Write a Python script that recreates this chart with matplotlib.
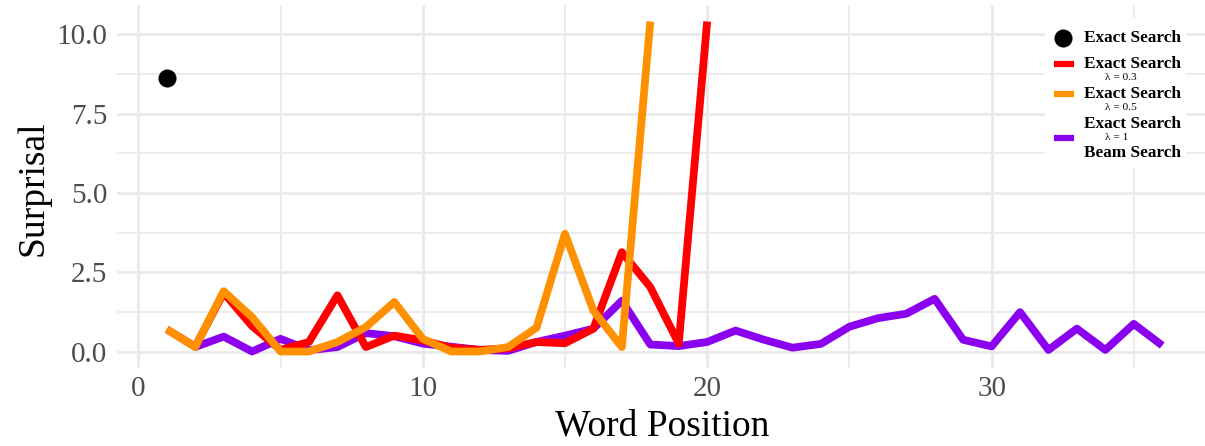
import matplotlib
matplotlib.use("Agg")
import matplotlib.pyplot as plt
from matplotlib.patches import Rectangle
from matplotlib.lines import Line2D
from matplotlib.ticker import MultipleLocator

# surprisal per word position
exact_x = [1]
exact_y = [8.62]

lam03_x = list(range(1, 21))
lam03_y = [0.70, 0.15, 1.85, 0.80, 0.05, 0.30, 1.77, 0.14, 0.50, 0.35,
           0.12, 0.05, 0.10, 0.30, 0.26, 0.72, 3.13, 2.03, 0.25, 10.4]

lam05_x = list(range(1, 19))
lam05_y = [0.70, 0.14, 1.90, 1.08, 0.00, 0.00, 0.30, 0.77, 1.56, 0.40,
           0.00, 0.00, 0.14, 0.75, 3.71, 1.29, 0.14, 10.4]

beam_x = list(range(2, 37))
beam_y = [0.14, 0.47, 0.00, 0.40, 0.04, 0.14, 0.58, 0.48, 0.25, 0.15,
          0.05, 0.02, 0.30, 0.50, 0.72, 1.60, 0.22, 0.17, 0.30, 0.66,
          0.37, 0.12, 0.24, 0.78, 1.05, 1.19, 1.66, 0.37, 0.16, 1.24,
          0.05, 0.72, 0.05, 0.87, 0.19]

RED = '#FF0000'
ORANGE = '#FF9100'
PURPLE = '#8C00F0'

W, H = 1205, 446
plt.rcParams['font.family'] = ['Liberation Serif', 'DejaVu Serif']

fig = plt.figure(figsize=(W / 100, H / 100), dpi=100)
ax = fig.add_axes([117 / W, 1 - 368 / H, (1212 - 117) / W, (368 - 5) / H])


def px(x, y):
    # pixel (from top-left) -> figure fraction
    return x / W, 1 - y / H


lw = 5.6
kw = dict(solid_joinstyle='round', solid_capstyle='butt', clip_on=True)
ax.plot(beam_x, beam_y, color=PURPLE, lw=lw, zorder=3, **kw)
ax.plot(lam03_x, lam03_y, color=RED, lw=lw, zorder=4, **kw)
ax.plot(lam05_x, lam05_y, color=ORANGE, lw=lw, zorder=5, **kw)
ax.plot(exact_x, exact_y, 'o', color='black', ms=12, zorder=6)

ax.set_xlim(-0.75, 37.75)
ax.set_ylim(-0.52, 10.92)
ax.xaxis.set_major_locator(MultipleLocator(10))
ax.xaxis.set_minor_locator(MultipleLocator(5))
ax.yaxis.set_major_locator(MultipleLocator(2.5))
ax.yaxis.set_minor_locator(MultipleLocator(1.25))
ax.yaxis.set_major_formatter(lambda v, p: f'{v:.1f}')

ax.grid(which='major', color='#EBEBEB', lw=2.2)
ax.grid(which='minor', color='#EBEBEB', lw=1.3)
ax.set_axisbelow(True)
for s in ax.spines.values():
    s.set_visible(False)
ax.tick_params(which='both', length=0)
ax.tick_params(axis='y', labelsize=21, labelcolor='#4D4D4D', pad=7)
ax.tick_params(axis='x', labelsize=21, labelcolor='#4D4D4D', pad=6)

fig.text(*px(33, 188), 'Surprisal', rotation=90, fontsize=27,
         ha='center', va='center')
fig.text(*px(662, 426), 'Word Position', fontsize=27,
         ha='center', va='center')

# legend, laid out by hand
bx0, by0, bx1, by1 = 1045, 18, 1186, 168
fig.patches.append(Rectangle(px(bx0, by1), (bx1 - bx0) / W, (by1 - by0) / H,
                             transform=fig.transFigure, facecolor='white',
                             edgecolor='none', zorder=10))
fig.lines.append(Line2D([px(1063, 38)[0]], [px(1063, 38)[1]], marker='o',
                        ms=12, color='black', transform=fig.transFigure,
                        zorder=11))
for yk, col in [(63.5, RED), (94, ORANGE), (138, PURPLE)]:
    xa, ya = px(1054, yk)
    xb, _ = px(1074, yk)
    fig.lines.append(Line2D([xa, xb], [ya, ya], color=col, lw=4.5,
                            solid_capstyle='butt', transform=fig.transFigure,
                            zorder=11))

big = [(38, 'Exact Search'), (64, 'Exact Search'), (94, 'Exact Search'),
       (124, 'Exact Search'), (153, 'Beam Search')]
for yt, t in big:
    fig.text(*px(1084, yt), t, fontsize=12.4, fontweight='bold',
             ha='left', va='center', zorder=12)
small = [(77, 'λ = 0.3'), (107, 'λ = 0.5'), (138, 'λ = 1')]
for yt, t in small:
    fig.text(*px(1105, yt), t, fontsize=8.2, ha='left', va='center',
             zorder=12)

fig.savefig('out.png', dpi=100, facecolor='white')
